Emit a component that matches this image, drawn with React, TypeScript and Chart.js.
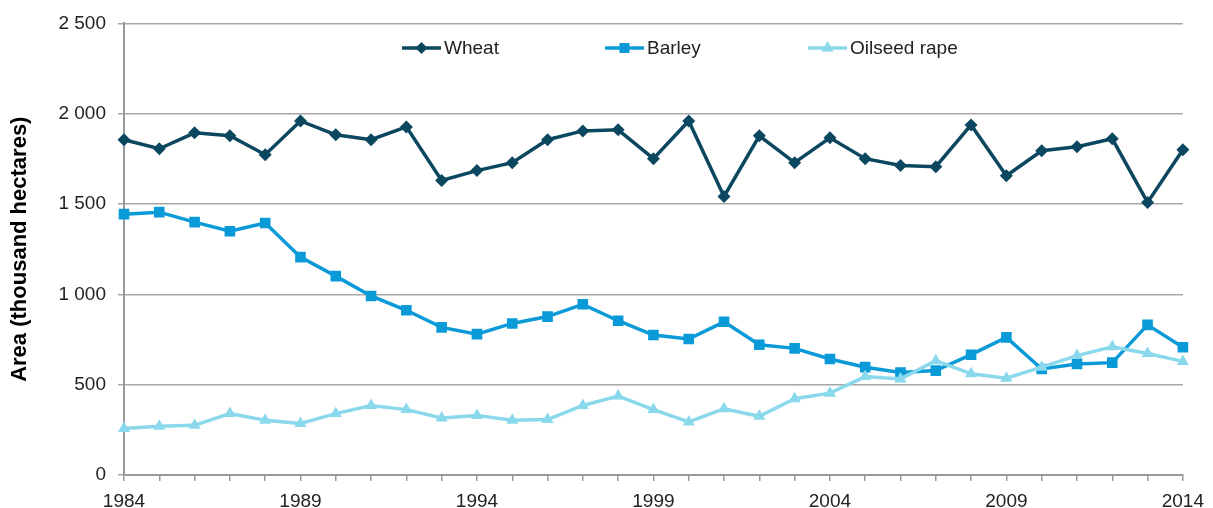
import React, { useEffect, useRef } from "react";
import { Chart, registerables } from "chart.js";

Chart.register(...registerables);

const years = [
  "1984", "1985", "1986", "1987", "1988", "1989", "1990", "1991", "1992", "1993",
  "1994", "1995", "1996", "1997", "1998", "1999", "2000", "2001", "2002", "2003",
  "2004", "2005", "2006", "2007", "2008", "2009", "2010", "2011", "2012", "2013", "2014",
];
const xTickLabels = ["1984", "1989", "1994", "1999", "2004", "2009", "2014"];
const yTickValues = [0, 500, 1000, 1500, 2000, 2500];

const wheat = [
  1856, 1806, 1894, 1878, 1773, 1960, 1883, 1856, 1927, 1630,
  1685, 1729, 1856, 1905, 1911, 1751, 1960, 1542, 1878, 1729,
  1867, 1751, 1713, 1707, 1938, 1657, 1795, 1817, 1861, 1509, 1800,
];
const barley = [
  1444, 1455, 1400, 1349, 1395, 1206, 1101, 991, 912, 817,
  780, 839, 877, 945, 854, 775, 753, 848, 721, 701,
  642, 597, 567, 578, 666, 762, 587, 615, 622, 831, 707,
];
const oilseed = [
  257, 270, 275, 340, 303, 285, 340, 385, 362, 316,
  330, 303, 307, 385, 437, 362, 294, 367, 325, 422,
  453, 545, 532, 633, 560, 536, 597, 661, 710, 673, 629,
];

const seriesNames = ["Wheat", "Barley", "Oilseed rape"];
const COLORS = ["#0c4760", "#0a9ad8", "#8ad8ec"];
const FONT = "'Liberation Sans', Arial, sans-serif";

function fmt(v: number): string {
  if (v >= 1000) {
    const th = Math.floor(v / 1000);
    const rest = String(v % 1000).padStart(3, "0");
    return th + " " + rest;
  }
  return String(v);
}

function drawMarker(ctx: CanvasRenderingContext2D, kind: string, x: number, y: number, color: string) {
  ctx.save();
  ctx.fillStyle = color;
  ctx.beginPath();
  if (kind === "diamond") {
    const r = 6;
    ctx.moveTo(x, y - r);
    ctx.lineTo(x + r, y);
    ctx.lineTo(x, y + r);
    ctx.lineTo(x - r, y);
    ctx.closePath();
  } else if (kind === "square") {
    const s = 5;
    ctx.rect(x - s, y - s, s * 2, s * 2);
  } else {
    const r = 7;
    ctx.moveTo(x, y - r);
    ctx.lineTo(x + r * 0.87, y + r * 0.5);
    ctx.lineTo(x - r * 0.87, y + r * 0.5);
    ctx.closePath();
  }
  ctx.fill();
  ctx.restore();
}

const legendPlugin = {
  id: "customLegend",
  afterDraw(chart: any) {
    const ctx = chart.ctx as CanvasRenderingContext2D;
    const kinds = ["diamond", "square", "triangle"];
    const starts = [402, 605, 808];
    const y = 48;
    ctx.save();
    seriesNames.forEach((name, i) => {
      const x0 = starts[i];
      ctx.strokeStyle = COLORS[i];
      ctx.lineWidth = 3.5;
      ctx.beginPath();
      ctx.moveTo(x0, y);
      ctx.lineTo(x0 + 39, y);
      ctx.stroke();
      drawMarker(ctx, kinds[i], x0 + 19.5, y, COLORS[i]);
      ctx.fillStyle = "#222222";
      ctx.font = "19px " + FONT;
      ctx.textBaseline = "middle";
      ctx.textAlign = "left";
      ctx.fillText(name, x0 + 42, y + 1);
    });
    ctx.restore();
  },
};

const TARGET = { left: 124, top: 21, right: 1188, bottom: 475 };

export default function App() {
  const ref = useRef<HTMLCanvasElement | null>(null);

  useEffect(() => {
    document.body.style.margin = "0";
    if (!ref.current) return;
    const padding = { top: 21, right: 25, left: 0, bottom: 0 };
    const chart = new Chart(ref.current, {
      type: "line",
      data: {
        labels: years,
        datasets: [
          {
            label: seriesNames[0],
            data: wheat,
            borderColor: COLORS[0],
            backgroundColor: COLORS[0],
            borderWidth: 3.5,
            pointStyle: "rectRot",
            pointRadius: 6.5,
            pointBorderWidth: 0,
            order: 3,
          },
          {
            label: seriesNames[1],
            data: barley,
            borderColor: COLORS[1],
            backgroundColor: COLORS[1],
            borderWidth: 3.5,
            pointStyle: "rect",
            pointRadius: 7.5,
            pointBorderWidth: 0,
            order: 2,
          },
          {
            label: seriesNames[2],
            data: oilseed,
            borderColor: COLORS[2],
            backgroundColor: COLORS[2],
            borderWidth: 3.5,
            pointStyle: "triangle",
            pointRadius: 7,
            pointBorderWidth: 0,
            order: 1,
          },
        ],
      },
      options: {
        responsive: false,
        animation: false,
        layout: { padding },
        plugins: {
          legend: { display: false },
          tooltip: { enabled: false },
        },
        scales: {
          x: {
            type: "category",
            offset: false,
            afterFit: (s: any) => {
              s.height = 33;
            },
            grid: {
              display: true,
              drawOnChartArea: false,
              drawTicks: true,
              tickLength: 6,
              color: "#999999",
              lineWidth: 1.5,
            },
            border: { display: true, color: "#999999", width: 2 },
            ticks: {
              autoSkip: false,
              maxRotation: 0,
              minRotation: 0,
              padding: 9,
              color: "#222222",
              font: { family: FONT, size: 19 },
              callback: (_v: any, i: number) => (xTickLabels.includes(years[i]) ? years[i] : ""),
            },
          },
          y: {
            min: 0,
            max: 2500,
            afterFit: (s: any) => {
              s.width = 124;
            },
            afterBuildTicks: (s: any) => {
              s.ticks = yTickValues.map((v) => ({ value: v }));
            },
            grid: {
              color: "#a6a6a6",
              lineWidth: 1.5,
              tickLength: 6,
              drawTicks: true,
            },
            border: { display: true, color: "#999999", width: 2 },
            ticks: {
              padding: 12,
              color: "#222222",
              font: { family: FONT, size: 19 },
              callback: (v: any) => fmt(Number(v)),
            },
            title: {
              display: true,
              text: "Area (thousand hectares)",
              color: "#000000",
              font: { family: FONT, size: 22, weight: "bold" },
              padding: { top: 7, bottom: 0 },
            },
          },
        },
      },
      plugins: [legendPlugin],
    });
    for (let k = 0; k < 3; k++) {
      const a = chart.chartArea;
      padding.top = Math.max(0, padding.top + (TARGET.top - a.top));
      padding.right = Math.max(0, padding.right + (a.right - TARGET.right));
      padding.bottom = Math.max(0, padding.bottom + (TARGET.bottom - a.bottom));
      (chart.options as any).layout.padding = { ...padding };
      chart.update();
    }
    return () => chart.destroy();
  }, []);

  return (
    <div style={{ width: 1213, height: 508 }}>
      <canvas ref={ref} width={1213} height={508} />
    </div>
  );
}
